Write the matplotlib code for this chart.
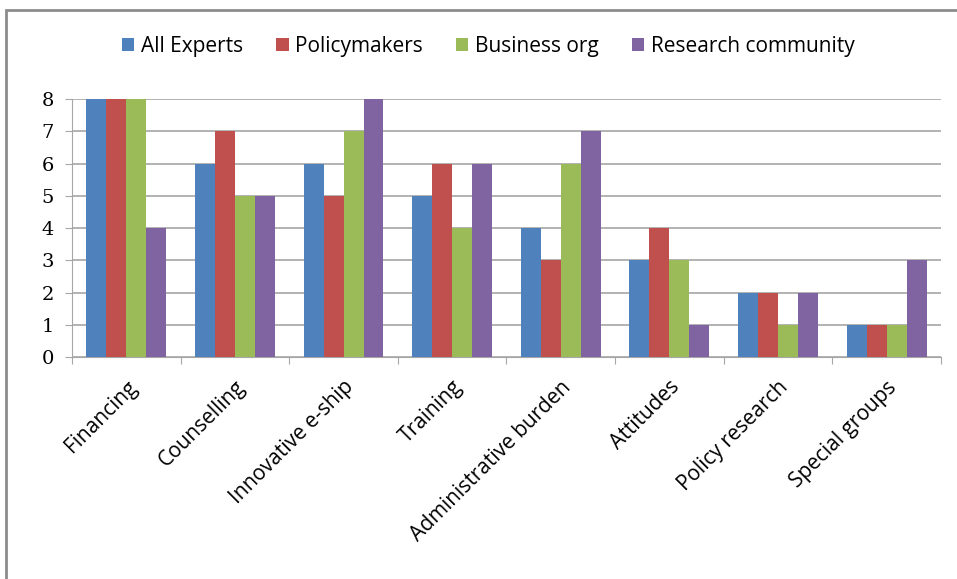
import numpy as np
import matplotlib.pyplot as plt
from matplotlib.patches import Rectangle

categories = ["Financing", "Counselling", "Innovative e-ship", "Training",
              "Administrative burden", "Attitudes", "Policy research", "Special groups"]
all_experts = [8, 6, 6, 5, 4, 3, 2, 1]
policymakers = [8, 7, 5, 6, 3, 4, 2, 1]
business_org = [8, 5, 7, 4, 6, 3, 1, 1]
research_comm = [4, 5, 8, 6, 7, 1, 2, 3]

series = [("All Experts", all_experts, "#4F81BD"),
          ("Policymakers", policymakers, "#C0504D"),
          ("Business org", business_org, "#9BBB59"),
          ("Research community", research_comm, "#8064A2")]

fig = plt.figure(figsize=(9.57, 5.79), dpi=100)
ax = fig.add_axes([0.0752, 0.383, 0.908, 0.446])

# outer chart frame
fig.patches.append(Rectangle((6 / 957, -0.1), 1.1, 1 - 10 / 579 + 0.1,
                             transform=fig.transFigure, fill=False,
                             edgecolor="#8C8C8C", linewidth=2))

x = np.arange(len(categories))
w = 0.184
for i, (name, vals, col) in enumerate(series):
    ax.bar(x + (i - 1.5) * w, vals, w, color=col, label=name, zorder=3)

ax.set_xlim(-0.5, len(categories) - 0.5)
ax.set_ylim(0, 8)
ax.set_yticks(range(9))
ax.yaxis.grid(True, color="#A6A6A6", linewidth=1.2, zorder=0)
for s in ["top", "right"]:
    ax.spines[s].set_visible(False)
ax.spines["left"].set_color("#A6A6A6")
ax.spines["bottom"].set_color("#A6A6A6")
ax.tick_params(axis="y", length=5, color="#A6A6A6", labelsize=14, pad=8)
ax.set_yticklabels([str(v) for v in range(9)], family="DejaVu Serif")

ax.set_xticks(np.arange(len(categories) + 1) - 0.5, minor=False)
ax.set_xticklabels([])
ax.tick_params(axis="x", length=5, color="#A6A6A6")
ax.set_xticks(x, minor=True)
ax.set_xticklabels(categories, minor=True, rotation=45, ha="right",
                   rotation_mode="anchor", fontsize=15, family="Open Sans")
ax.tick_params(axis="x", which="minor", length=0, pad=14)

fig.legend(loc="center", bbox_to_anchor=(0.51, 0.92), ncol=4, frameon=False,
           prop={"family": "Open Sans", "size": 15}, handlelength=0.6,
           handleheight=0.6, handletextpad=0.3, columnspacing=1.6)

fig.savefig("out.png", dpi=100)
